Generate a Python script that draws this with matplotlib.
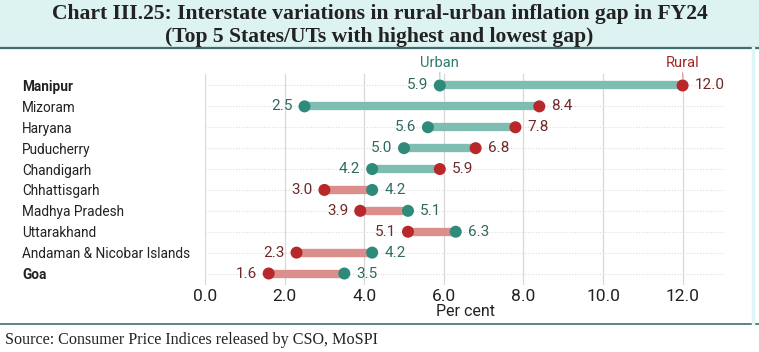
import matplotlib.pyplot as plt
from matplotlib.patches import Rectangle

states = ["Manipur", "Mizoram", "Haryana", "Puducherry", "Chandigarh",
          "Chhattisgarh", "Madhya Pradesh", "Uttarakhand",
          "Andaman & Nicobar Islands", "Goa"]
urban = [5.9, 2.5, 5.6, 5.0, 4.2, 4.2, 5.1, 6.3, 4.2, 3.5]
rural = [12.0, 8.4, 7.8, 6.8, 5.9, 3.0, 3.9, 5.1, 2.3, 1.6]
bold_states = ["Manipur", "Goa"]
xticks = [0, 2, 4, 6, 8, 10, 12]

URBAN_C = "#2e8b7c"
RURAL_C = "#b8282a"
URBAN_BAR = "#7fbcb2"
RURAL_BAR = "#dc8e8c"

W, H = 759, 352
fig = plt.figure(figsize=(W / 100, H / 100), dpi=100)

# title band
fig.patches.append(Rectangle((0, 1 - 47 / H), 1, 47 / H, transform=fig.transFigure,
                             facecolor="#dcf3f1", edgecolor="none", zorder=0))
fig.add_artist(plt.Line2D([0, 1], [1 - 47.5 / H] * 2, color="#3f6e72", lw=1.6))
fig.add_artist(plt.Line2D([0, 1], [1 - 324 / H] * 2, color="#3f6e72", lw=1.2))
fig.add_artist(plt.Line2D([753 / W] * 2, [1 - 48 / H, 1 - 323 / H], color="#dff6f6", lw=2.5))

fig.text(0.5, 1 - 14 / H, "Chart III.25: Interstate variations in rural-urban inflation gap in FY24",
         ha="center", va="center", family="Liberation Serif", weight="bold", size=15.6, color="#222222")
fig.text(0.5, 1 - 37 / H, "(Top 5 States/UTs with highest and lowest gap)",
         ha="center", va="center", family="Liberation Serif", weight="bold", size=15.6, color="#222222")
fig.text(5 / W, 1 - 340 / H, "Source: Consumer Price Indices released by CSO, MoSPI",
         ha="left", va="center", family="Liberation Serif", size=11.6, color="#222222")

ax = fig.add_axes([205 / W, 1 - 285 / H, (725 - 205) / W, (285 - 74) / H])
ax.set_xlim(0, 520 / 39.8)
y = list(range(len(states)))
ax.set_ylim(len(states) - 0.45, -0.55)

for i in y:
    u, r = urban[i], rural[i]
    left_is_urban = u < r
    c = URBAN_BAR if left_is_urban else RURAL_BAR
    ax.plot([u, r], [i, i], color=c, lw=6, solid_capstyle="butt", zorder=2)
    ax.scatter([u], [i], s=75, color=URBAN_C, zorder=3, edgecolors="none")
    ax.scatter([r], [i], s=75, color=RURAL_C, zorder=3, edgecolors="none")
    lo, hi = min(u, r), max(u, r)
    lo_c = "#2f6a62" if left_is_urban else "#6e2a2a"
    hi_c = "#6e2a2a" if left_is_urban else "#2f6a62"
    ax.text(lo - 0.3, i, f"{lo:.1f}", ha="right", va="center", size=11,
            family="Roboto", color=lo_c)
    ax.text(hi + 0.3, i, f"{hi:.1f}", ha="left", va="center", size=11,
            family="Roboto", color=hi_c)

# series labels above the first row
ax.annotate("Urban", xy=(urban[0], -0.35), xytext=(urban[0], -1.1), ha="center", va="center",
            size=10.5, family="Roboto", color="#2f7a6e", annotation_clip=False,
            arrowprops=dict(arrowstyle="-", color="#9cc", lw=0.8, shrinkA=5, shrinkB=0))
ax.annotate("Rural", xy=(rural[0], -0.35), xytext=(rural[0], -1.1), ha="center", va="center",
            size=10.5, family="Roboto", color="#a02828", annotation_clip=False,
            arrowprops=dict(arrowstyle="-", color="#e0a0a0", lw=0.8, shrinkA=5, shrinkB=0))

for i in y:
    ax.axhline(i, color="#dddddd", lw=0.8, ls=(0, (1, 1.5)), zorder=0)
for t in xticks:
    ax.axvline(t, color="#d8d8d8", lw=0.9, zorder=0)

ax.set_xticks(xticks)
ax.set_xticklabels([f"{t:.1f}" for t in xticks], family="Roboto", size=12.5, color="#222222")
ax.set_yticks(y)
ax.set_yticklabels(states, family="Roboto", size=9.8, color="#222222")
for lab in ax.get_yticklabels():
    lab.set_ha("left")
    if lab.get_text() in bold_states:
        lab.set_weight("bold")
ax.tick_params(axis="y", length=0, pad=183 * 0.72)
ax.tick_params(axis="x", length=0, pad=3)
ax.set_xlabel("Per cent", family="Roboto", size=11.5, color="#222222", labelpad=0)
for s in ax.spines.values():
    s.set_visible(False)

fig.savefig("out.png", dpi=100)
